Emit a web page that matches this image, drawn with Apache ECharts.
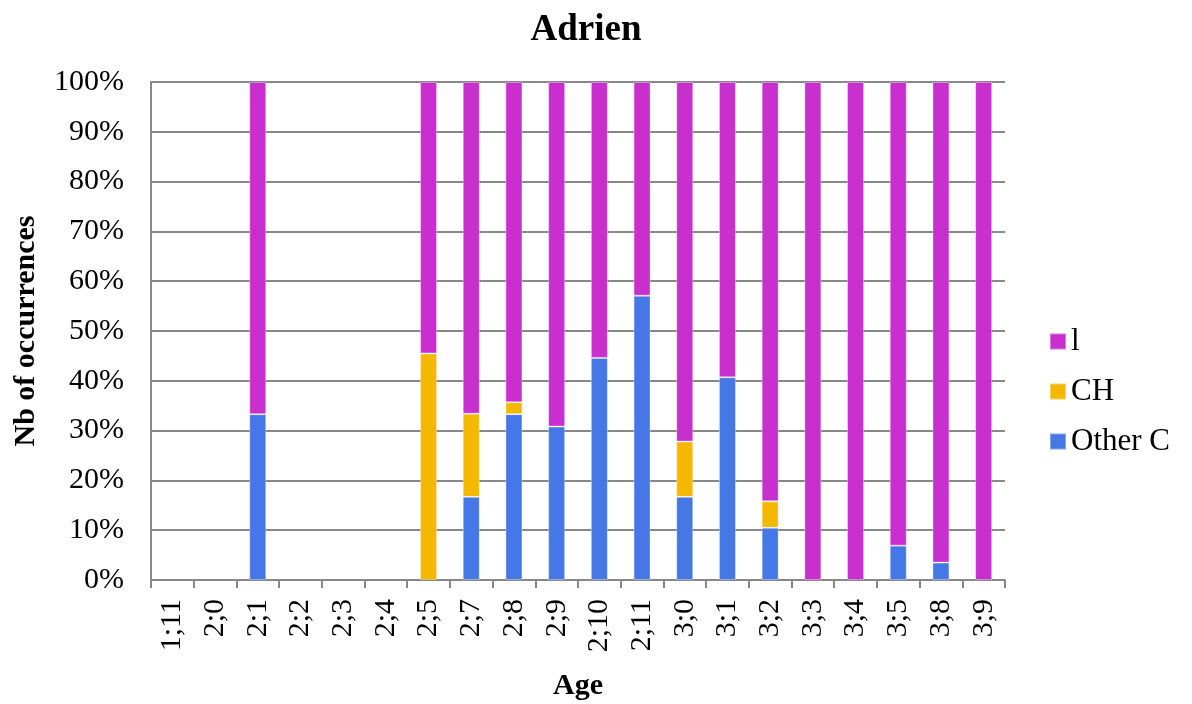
<!DOCTYPE html>
<html>
<head>
<meta charset="utf-8">
<script src="https://cdn.jsdelivr.net/npm/echarts@6/dist/echarts.min.js"></script>
<style>html,body{margin:0;padding:0;background:#fff;}#c{width:1192px;height:704px;}</style>
</head>
<body>
<div id="c"></div>
<script>
const ages = ['1;11','2;0','2;1','2;2','2;3','2;4','2;5','2;7','2;8','2;9','2;10','2;11','3;0','3;1','3;2','3;3','3;4','3;5','3;8','3;9'];
const otherC = [0,0,33.3,0,0,0,0,16.7,33.3,30.8,44.6,57.1,16.7,40.7,10.5,0,0,6.9,3.5,0];
const ch     = [0,0,0,0,0,0,45.5,16.7,2.4,0,0,0,11.1,0,5.3,0,0,0,0,0];
const l      = [0,0,66.7,0,0,0,54.5,66.6,64.3,69.2,55.4,42.9,72.2,59.3,84.2,100,100,93.1,96.5,100];
const yTicks = [0,10,20,30,40,50,60,70,80,90,100];

const font = '"Liberation Serif", "Times New Roman", serif';
const nz = arr => arr.map(v => v === 0 ? null : v);
const chart = echarts.init(document.getElementById('c'), null, {renderer:'canvas'});
chart.setOption({
  animation:false,
  textStyle:{fontFamily:font},
  title:{text:'Adrien',left:581,top:7,textAlign:'center',textStyle:{fontFamily:font,fontSize:37,fontWeight:'bold',color:'#000'}},
  legend:{
    orient:'vertical', left:1044, top:321, itemGap:19, itemWidth:16, itemHeight:16, itemTextGap:8,
    icon:'rect',
    data:['l','CH','Other C'],
    textStyle:{fontFamily:font,fontSize:31,color:'#000'}
  },
  grid:{left:151,right:187,top:82,bottom:124,containLabel:false,outerBoundsMode:'none'},
  xAxis:{
    type:'category', data:ages,
    name:'Age', nameLocation:'middle', nameGap:91,
    nameTextStyle:{fontFamily:font,fontSize:30,fontWeight:'bold',color:'#000'},
    axisLine:{lineStyle:{color:'#888',width:2}},
    axisTick:{show:true,length:8,lineStyle:{color:'#888',width:2}},
    axisLabel:{rotate:90,fontFamily:font,fontSize:30,color:'#000',margin:19,formatter:v=>v}
  },
  yAxis:{
    type:'value', min:0, max:100, interval:10,
    name:'Nb of occurrences', nameLocation:'middle', nameGap:110, nameRotate:90,
    nameTextStyle:{fontFamily:font,fontSize:30,fontWeight:'bold',color:'#000'},
    axisLine:{show:true,lineStyle:{color:'#888',width:2}},
    axisTick:{show:false},
    splitLine:{lineStyle:{color:'#888',width:2}},
    axisLabel:{fontFamily:font,fontSize:30,color:'#000',margin:27,formatter:v=>v+'%'}
  },
  series:[
    {name:'Other C',type:'bar',stack:'a',data:nz(otherC),barWidth:17,itemStyle:{color:'#4677E6',borderColor:'rgba(255,255,255,0.35)',borderWidth:1}},
    {name:'CH',type:'bar',stack:'a',data:nz(ch),barWidth:17,itemStyle:{color:'#F5B800',borderColor:'rgba(255,255,255,0.35)',borderWidth:1}},
    {name:'l',type:'bar',stack:'a',data:nz(l),barWidth:17,itemStyle:{color:'#C92FCE',borderColor:'rgba(255,255,255,0.35)',borderWidth:1}}
  ]
});
</script>
</body>
</html>
